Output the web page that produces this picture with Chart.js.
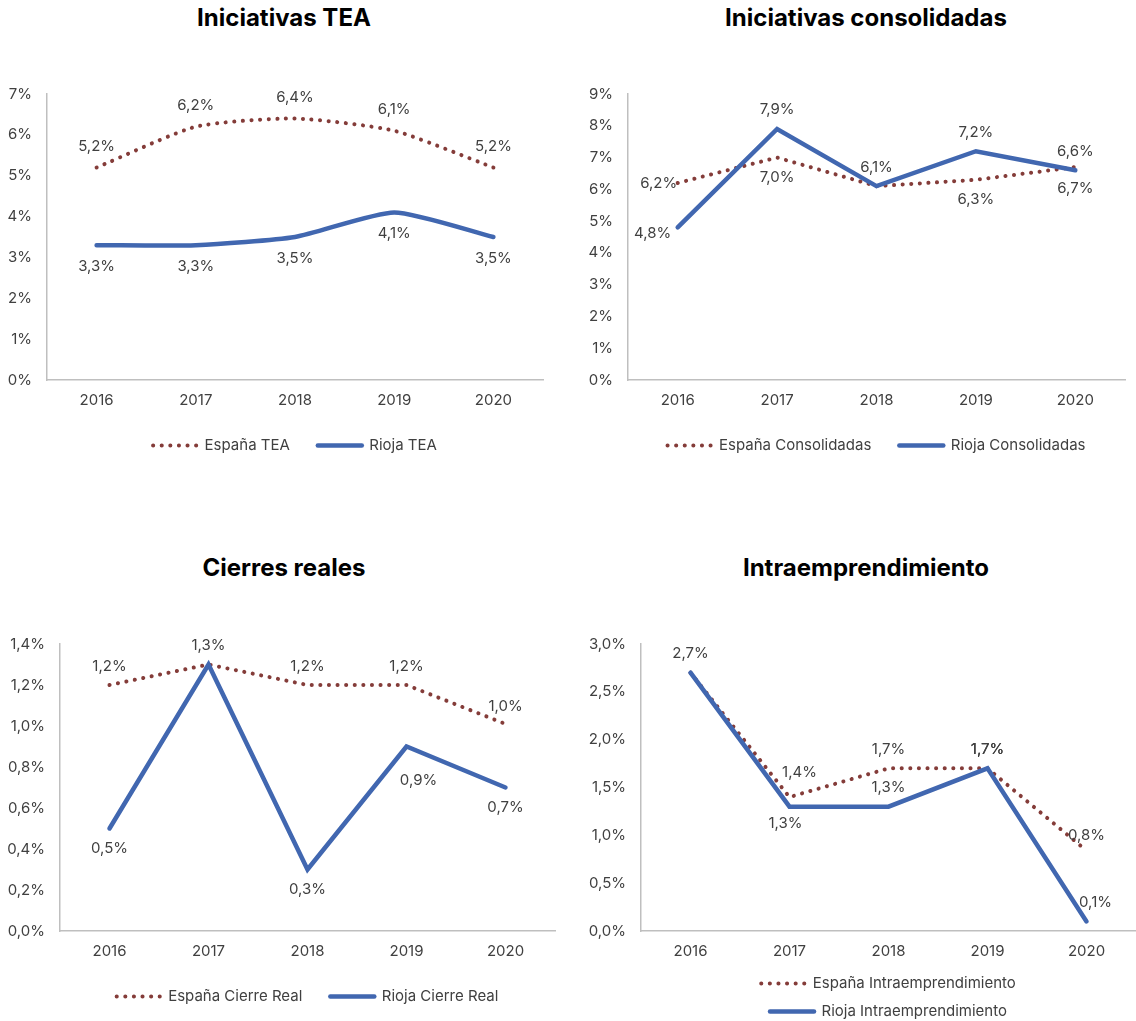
<!DOCTYPE html>
<html>
<head>
<meta charset="utf-8">
<script src="https://cdn.jsdelivr.net/npm/chart.js@4.4.1/dist/chart.umd.min.js"></script>
<style>
  html, body { margin: 0; padding: 0; background: #fff; overflow: hidden; }
  .box { position: absolute; width: 568px; }
  .title { position: absolute; width: 600px; text-align: center; font: bold 24px Inter, sans-serif; line-height: 28px; color: #000; }
</style>
</head>
<body>
<div class="title" style="left:-16px;top:4px">Iniciativas TEA</div>
<div class="title" style="left:566px;top:4px">Iniciativas consolidadas</div>
<div class="title" style="left:-16px;top:554px">Cierres reales</div>
<div class="title" style="left:566px;top:554px">Intraemprendimiento</div>
<div class="box" style="left:0;top:0;height:463px"><canvas id="teaChart"></canvas></div>
<div class="box" style="left:568px;top:0;height:463px"><canvas id="consChart"></canvas></div>
<div class="box" style="left:0;top:540px;height:474px"><canvas id="cierreChart"></canvas></div>
<div class="box" style="left:568px;top:540px;height:489px"><canvas id="intraChart"></canvas></div>
<script>
const years = ["2016", "2017", "2018", "2019", "2020"];

// Iniciativas TEA
const teaEspana = [5.2, 6.2, 6.4, 6.1, 5.2];
const teaRioja = [3.3, 3.3, 3.5, 4.1, 3.5];
const teaTicks = ["0%", "1%", "2%", "3%", "4%", "5%", "6%", "7%"];

// Iniciativas consolidadas
const consEspana = [6.2, 7.0, 6.1, 6.3, 6.7];
const consRioja = [4.8, 7.9, 6.1, 7.2, 6.6];
const consTicks = ["0%", "1%", "2%", "3%", "4%", "5%", "6%", "7%", "8%", "9%"];

// Cierres reales
const cierreEspana = [1.2, 1.3, 1.2, 1.2, 1.01];
const cierreRioja = [0.5, 1.3, 0.3, 0.9, 0.7];
const cierreTicks = ["0,0%", "0,2%", "0,4%", "0,6%", "0,8%", "1,0%", "1,2%", "1,4%"];

// Intraemprendimiento
const intraEspana = [2.7, 1.4, 1.7, 1.7, 0.84];
const intraRioja = [2.7, 1.3, 1.3, 1.7, 0.1];
const intraTicks = ["0,0%", "0,5%", "1,0%", "1,5%", "2,0%", "2,5%", "3,0%"];

const ESP_COLOR = "#843c39";
const RIOJA_COLOR = "#4167b0";
const TEXT = "#404040";
Chart.defaults.font.family = "Inter";

function fmt(v) {
  return v.toFixed(1).replace(".", ",") + "%";
}

// value labels next to each point (offsets in px, null = no label)
const valueLabels = {
  id: "valueLabels",
  afterDatasetsDraw(chart) {
    const ctx = chart.ctx;
    ctx.save();
    ctx.font = "15px Inter";
    ctx.fillStyle = TEXT;
    ctx.textAlign = "center";
    ctx.textBaseline = "middle";
    chart.data.datasets.forEach((ds, i) => {
      chart.getDatasetMeta(i).data.forEach((pt, j) => {
        const off = ds.labelOffsets[j];
        if (!off) return;
        ctx.fillText(fmt(ds.data[j]), pt.x + off[0], pt.y + off[1]);
      });
    });
    ctx.restore();
  }
};

// legend entries drawn as the dataset's own line (dotted / solid)
function legendItems(chart) {
  return chart.data.datasets.map((ds, i) => ({
    text: ds.label,
    strokeStyle: ds.borderColor,
    fillStyle: ds.borderColor,
    lineWidth: ds.borderWidth,
    lineDash: ds.borderDash || [],
    lineCap: "round",
    pointStyle: "line",
    fontColor: TEXT,
    datasetIndex: i
  }));
}

function lineChart(id, o) {
  const axisBorder = { color: "#bfbfbf", width: 1.5 };
  const tickFont = { size: 15 };
  return new Chart(document.getElementById(id), {
    type: "line",
    data: {
      labels: years,
      datasets: [{
        label: o.names[0],
        data: o.espana,
        borderColor: ESP_COLOR,
        borderWidth: 4,
        borderDash: [0.1, 8.5],
        borderCapStyle: "round",
        pointRadius: 0,
        order: 1,
        tension: o.tension || 0,
        labelOffsets: o.espanaLbl
      }, {
        label: o.names[1],
        data: o.rioja,
        borderColor: RIOJA_COLOR,
        borderWidth: 4.5,
        borderCapStyle: "round",
        pointRadius: 0,
        order: 0,
        tension: o.tension || 0,
        labelOffsets: o.riojaLbl
      }]
    },
    options: {
      responsive: true,
      maintainAspectRatio: false,
      animation: false,
      layout: { padding: { left: 0, right: o.padR, top: o.areaTop, bottom: 0 } },
      plugins: {
        legend: {
          position: "bottom",
          fullSize: false,
          labels: {
            usePointStyle: true,
            pointStyleWidth: 44,
            padding: o.legendPad,
            color: TEXT,
            font: { size: 15 },
            generateLabels: legendItems
          }
        },
        tooltip: { enabled: false }
      },
      scales: {
        x: {
          offset: true,
          grid: { display: false },
          border: axisBorder,
          ticks: { color: TEXT, font: tickFont, padding: 3 },
          afterFit: s => { s.height = o.xHeight; }
        },
        y: {
          min: 0,
          max: o.max,
          grid: { display: false },
          border: axisBorder,
          ticks: {
            stepSize: o.step,
            padding: 7,
            color: TEXT,
            font: tickFont,
            callback: (v, i) => o.ticks[i]
          },
          afterFit: s => { s.width = o.yWidth; }
        }
      }
    },
    plugins: [valueLabels]
  });
}

lineChart("teaChart", {
  names: ["España TEA", "Rioja TEA"],
  espana: teaEspana, rioja: teaRioja, ticks: teaTicks,
  max: 7, step: 1, tension: 0.2,
  padR: 25, yWidth: 47,
  areaTop: 94, xHeight: 30, legendPad: 28,
  espanaLbl: [[0, -21], [0, -21], [0, -21], [0, -21], [0, -21]],
  riojaLbl: [[0, 21], [0, 21], [0, 21], [0, 21], [0, 21]]
});

lineChart("consChart", {
  names: ["España Consolidadas", "Rioja Consolidadas"],
  espana: consEspana, rioja: consRioja, ticks: consTicks,
  max: 9, step: 1,
  padR: 11, yWidth: 60,
  areaTop: 94, xHeight: 30, legendPad: 28,
  espanaLbl: [[-19, 1], [0, 20], null, [0, 20], [0, 21]],
  riojaLbl: [[-25, 6], [0, -19], [0, -19], [0, -19], [0, -19]]
});

lineChart("cierreChart", {
  names: ["España Cierre Real", "Rioja Cierre Real"],
  espana: cierreEspana, rioja: cierreRioja, ticks: cierreTicks,
  max: 1.4, step: 0.2,
  padR: 13, yWidth: 60,
  areaTop: 104, xHeight: 30, legendPad: 28,
  espanaLbl: [[0, -19], null, [0, -19], [0, -19], [0, -17]],
  riojaLbl: [[0, 20], [0, -19], [0, 20], [12, 34], [0, 20]]
});

lineChart("intraChart", {
  names: ["España Intraemprendimiento", "Rioja Intraemprendimiento"],
  espana: intraEspana, rioja: intraRioja, ticks: intraTicks,
  max: 3, step: 0.5,
  padR: 0, yWidth: 73,
  areaTop: 104, xHeight: 32, legendPad: 13,
  espanaLbl: [null, [10, -25], [0, -19], [0, -19], [0, -15]],
  riojaLbl: [[0, -19], [-4, 17], [0, -19], [0, -19], [9, -19]]
});
</script>
</body>
</html>
